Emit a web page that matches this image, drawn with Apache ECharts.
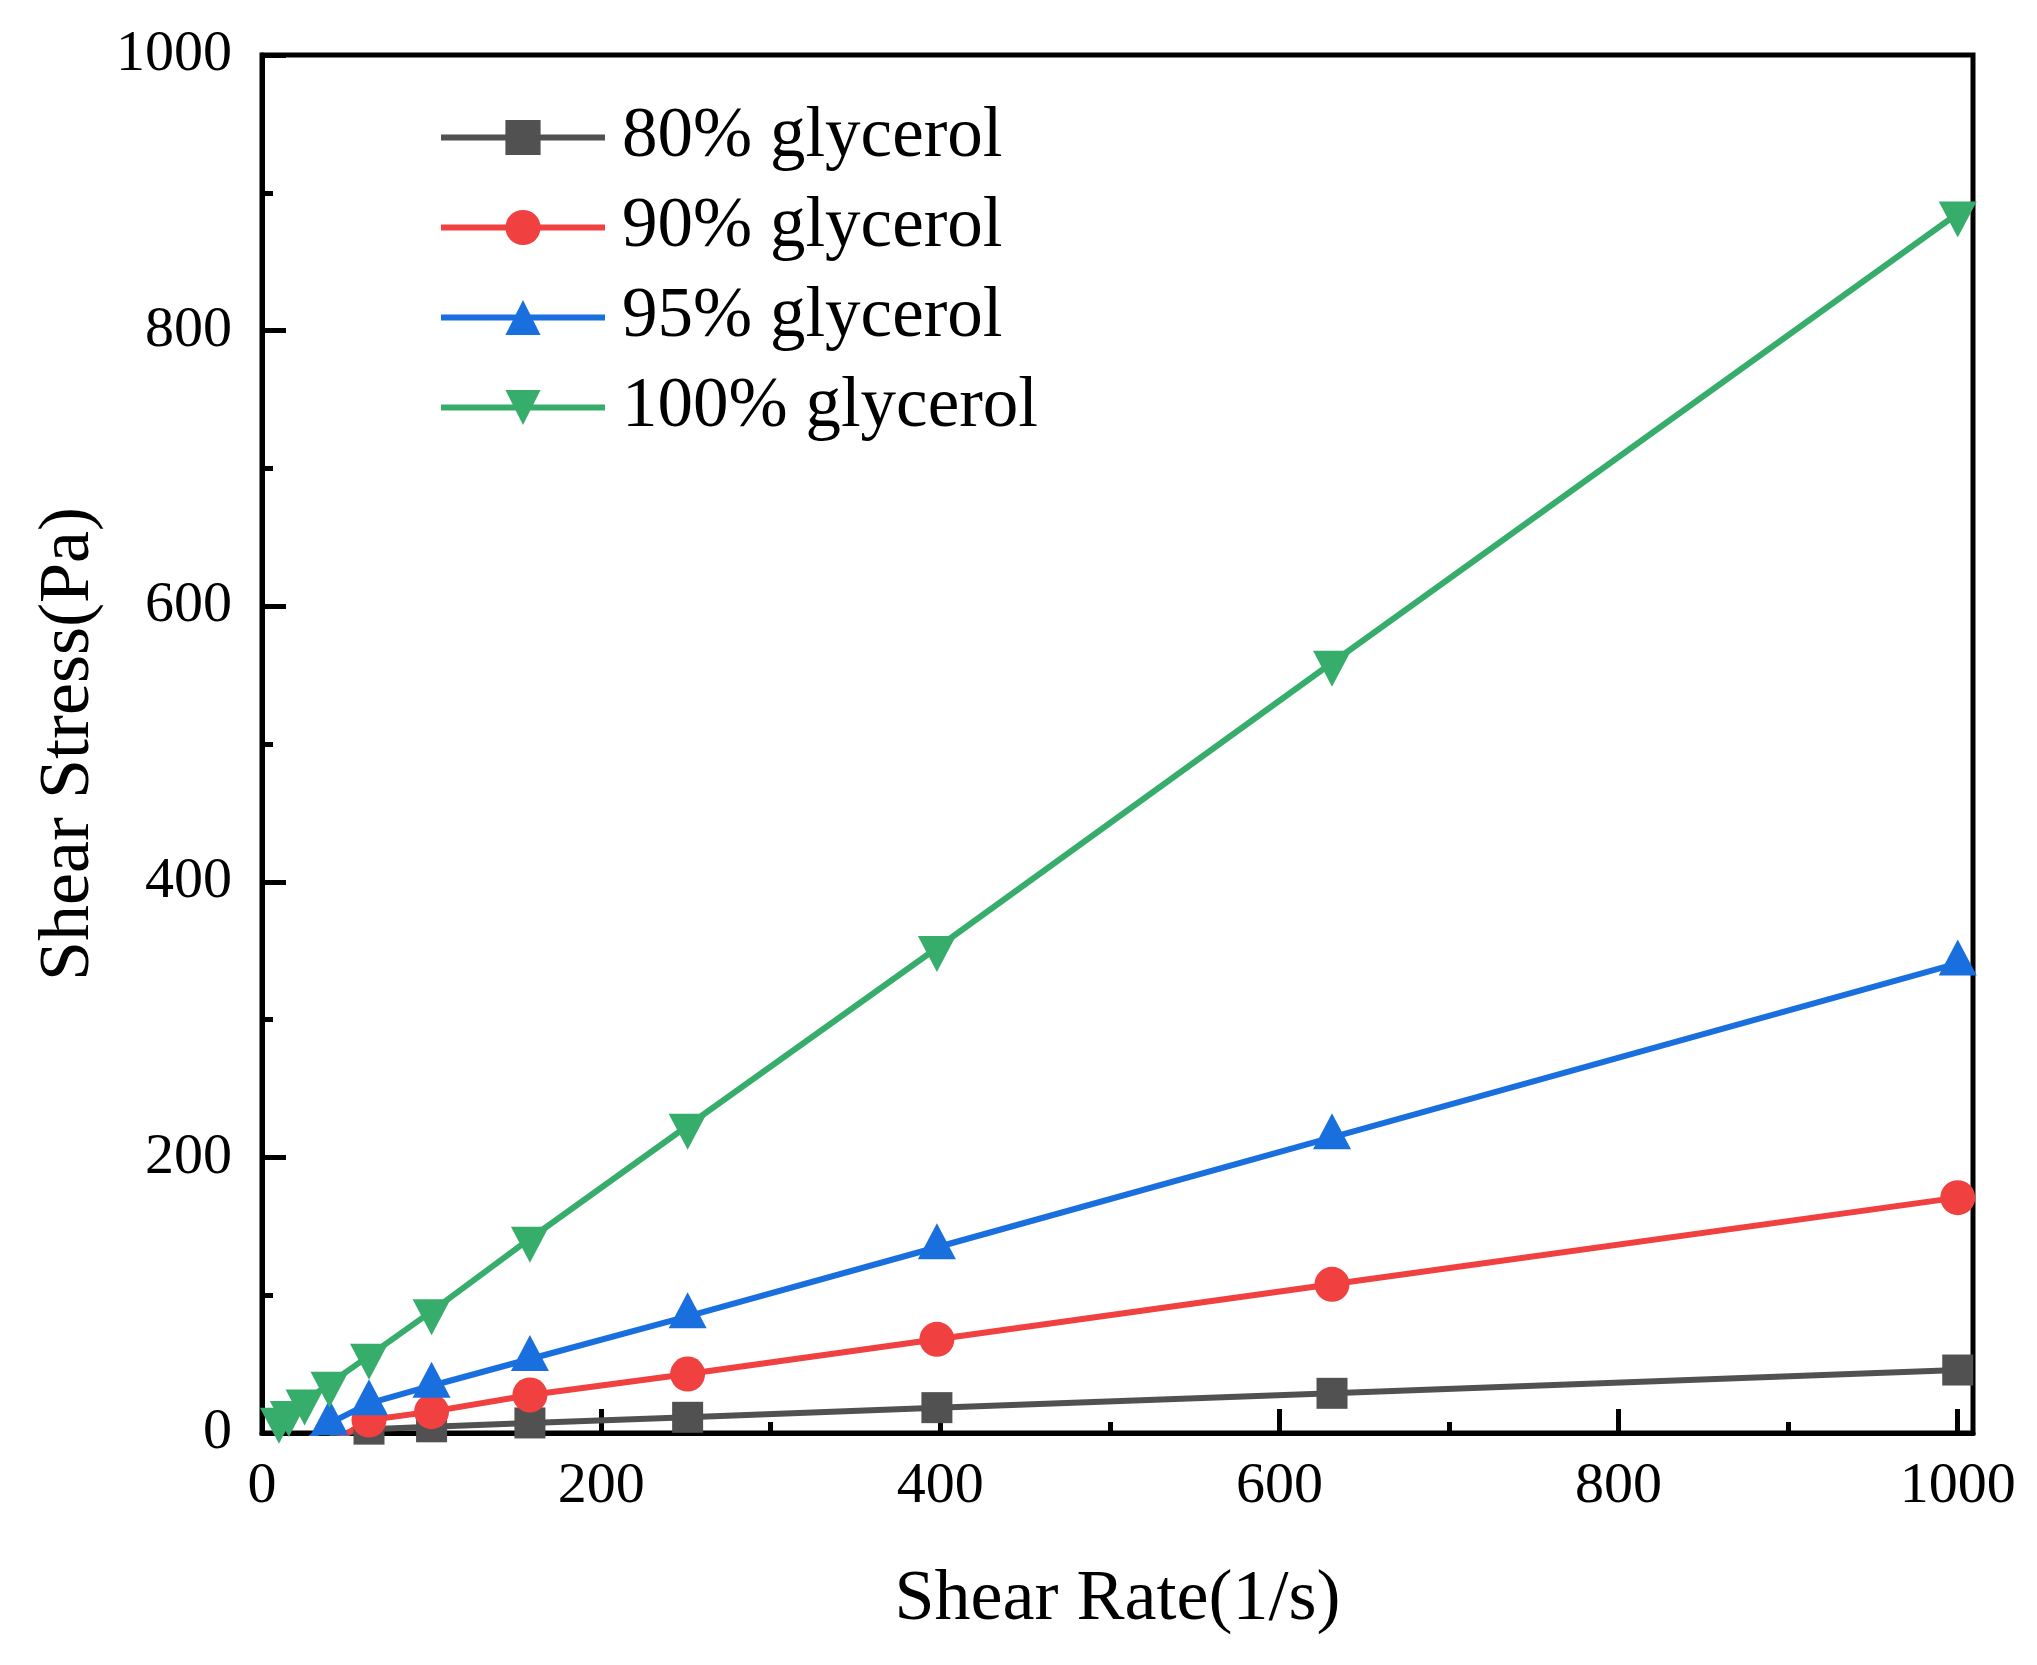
<!DOCTYPE html>
<html><head><meta charset="utf-8">
<script src="https://cdn.jsdelivr.net/npm/echarts@6/dist/echarts.min.js"></script>
<style>html,body{margin:0;padding:0;background:#fff}#c{width:2037px;height:1665px}</style>
</head><body><div id="c"></div>
<script>
const seriesNames = ['80% glycerol', '90% glycerol', '95% glycerol', '100% glycerol'];
const seriesColors = ['#515151', '#F14040', '#1A6FDF', '#37AD6B'];

const rate80 = [39.8, 63.1, 100, 158, 251, 398, 631, 1000];
const stress80 = [-2, 2.8, 4.5, 7.3, 11.4, 18.4, 28.8, 45.7];

const rate90 = [39.8, 63.1, 100, 158, 251, 398, 631, 1000];
const stress90 = [-8, 9.4, 15.5, 27.6, 42.8, 68, 107.9, 170.8];

const rate95 = [25.1, 39.8, 63.1, 100, 158, 251, 398, 631, 1000];
const stress95 = [-7, 7, 21.5, 34.3, 53.7, 84.7, 134.8, 214.6, 340.8];

const rate100 = [10, 15.8, 25.1, 39.8, 63.1, 100, 158, 251, 398, 631, 1000];
const stress100 = [9.7, 14.5, 22.8, 35.8, 56, 88.3, 141, 223, 352, 559, 885];

const xMajorTicks = [0, 200, 400, 600, 800, 1000];
const xMinorTicks = [100, 300, 500, 700, 900];

const FONT = 'Liberation Serif';
const zip = (xs, ys) => xs.map((x, i) => [x, ys[i]]);
const plain = v => String(v);

const symbols = ['rect', 'circle', 'triangle', 'path://M0,0L10,0L5,10Z'];
const symbolSizes = [31, 35, [38, 36], [38, 36]];
const symbolOffsets = [[0, 0], [0, 0], [0, -6], [0, 6]];
const datasets = [zip(rate80, stress80), zip(rate90, stress90), zip(rate95, stress95), zip(rate100, stress100)];

const chart = echarts.init(document.getElementById('c'), null, {renderer: 'canvas'});
const axisCommon = {
  axisLine: {show: true, lineStyle: {color: '#000', width: 5}},
  splitLine: {show: false}
};
chart.setOption({
  animation: false,
  backgroundColor: '#fff',
  grid: {left: 262, right: 64, top: 55, bottom: 232, show: true, borderColor: '#000', borderWidth: 5, backgroundColor: 'transparent'},
  legend: {
    orient: 'vertical', left: 433, top: 97,
    itemWidth: 164, itemHeight: 44, itemGap: 19,
    data: seriesNames,
    lineStyle: {width: 6},
    textStyle: {fontFamily: FONT, fontSize: 71, color: '#000', lineHeight: 70, padding: [0, 0, 0, 12]}
  },
  xAxis: [{
    type: 'value', min: 0, max: 1009,
    ...axisCommon,
    axisTick: {show: true, inside: true, length: 24, lineStyle: {color: '#000', width: 5}, customValues: xMajorTicks},
    axisLabel: {customValues: xMajorTicks, formatter: plain, margin: 25, fontFamily: FONT, fontSize: 58, color: '#000'},
    name: 'Shear Rate(1/s)', nameLocation: 'middle', nameGap: 131,
    nameTextStyle: {fontFamily: FONT, fontSize: 72, color: '#000'}
  }, {
    type: 'value', min: 0, max: 1009, position: 'bottom',
    axisLine: {show: false}, splitLine: {show: false},
    axisTick: {show: true, inside: true, length: 11, lineStyle: {color: '#000', width: 5}, customValues: xMinorTicks},
    axisLabel: {show: false, customValues: xMinorTicks}
  }],
  yAxis: {
    type: 'value', min: 0, max: 1000, interval: 200,
    ...axisCommon,
    axisTick: {show: true, inside: true, length: 24, lineStyle: {color: '#000', width: 5}},
    minorTick: {show: true, splitNumber: 2, length: 11, lineStyle: {color: '#000', width: 5}},
    minorSplitLine: {show: false},
    axisLabel: {formatter: plain, margin: 30, fontFamily: FONT, fontSize: 58, color: '#000'},
    name: 'Shear Stress(Pa)', nameLocation: 'middle', nameGap: 151,
    nameTextStyle: {fontFamily: FONT, fontSize: 72, color: '#000'}
  },
  series: seriesNames.map((name, i) => ({
    name: name,
    type: 'line',
    xAxisIndex: 0,
    data: datasets[i],
    symbol: symbols[i],
    symbolSize: symbolSizes[i],
    symbolOffset: symbolOffsets[i],
    showSymbol: true,
    clip: true,
    itemStyle: {color: seriesColors[i], borderWidth: 0},
    lineStyle: {color: seriesColors[i], width: 6}
  }))
});
</script>
</body></html>
